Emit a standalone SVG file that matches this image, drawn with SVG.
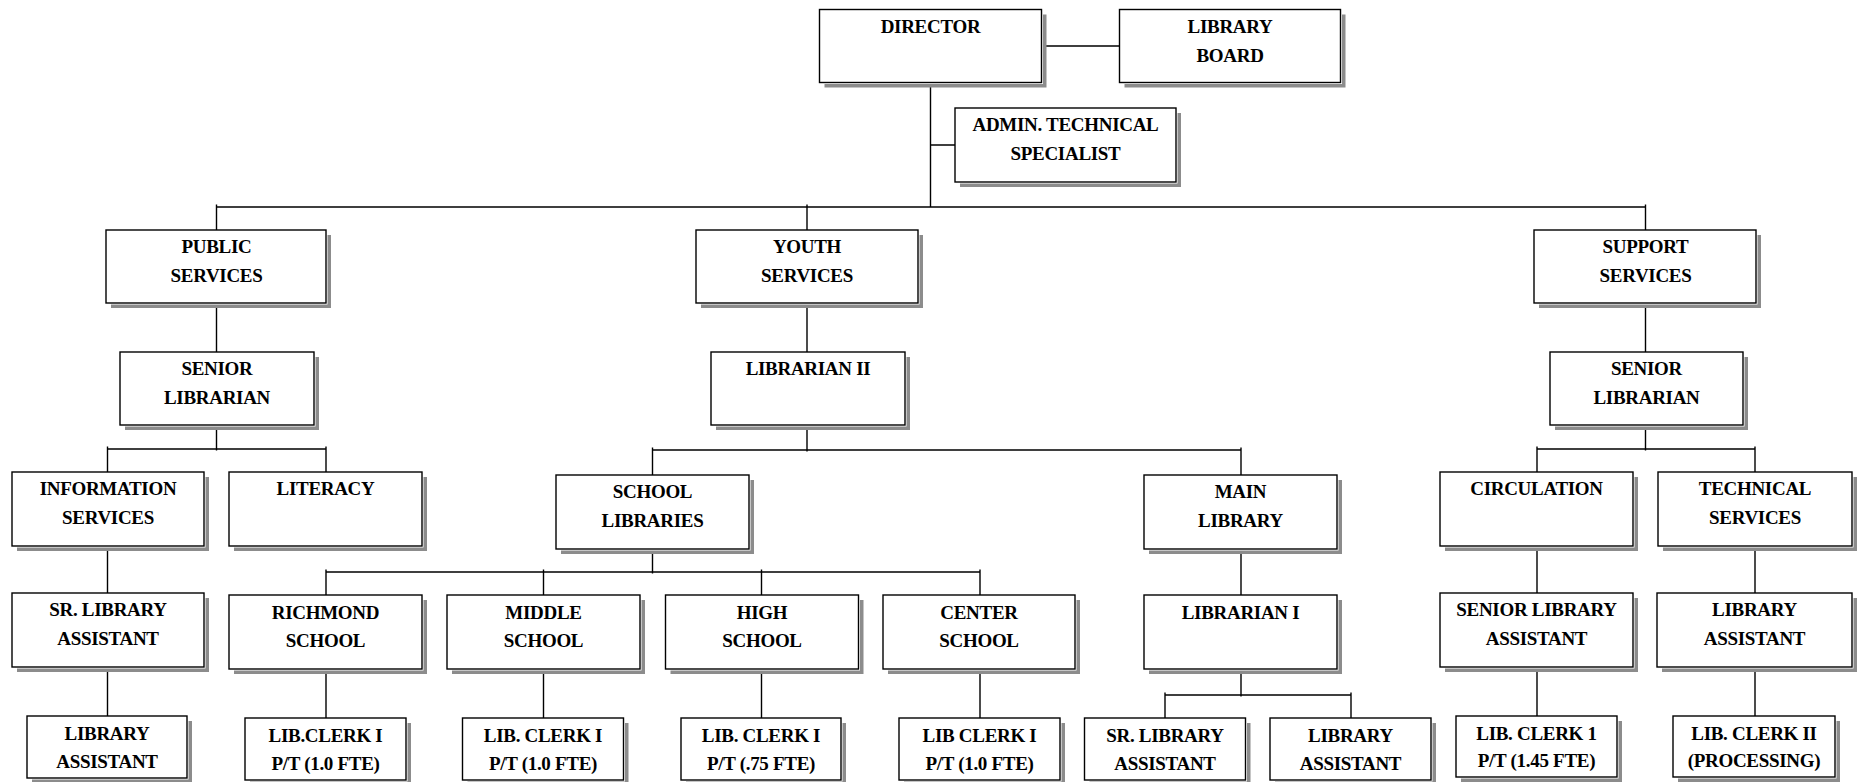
<svg xmlns="http://www.w3.org/2000/svg" width="1862" height="782" viewBox="0 0 1862 782">
<style>
.sh{fill:#8c8c8c}
.gap{fill:#ffffff}
.bx{fill:#ffffff;stroke:#000;stroke-width:1.4}
.t{font-family:"Liberation Serif","Times New Roman",serif;font-weight:bold;font-size:19px;letter-spacing:-0.3px;text-anchor:middle;fill:#000}
.c{stroke:#000;stroke-width:1.4;fill:none}
</style>
<rect x="0" y="0" width="1862" height="782" fill="#ffffff"/>
<g id="connectors">
<path class="c" d="M1041.5 46H1119.5M930.5 82.5V207M930.5 145H955M216.5 207H1645.5M216.5 204.5V230M807 204.5V230M1645.5 204.5V230"/>
<path class="c" d="M216.5 303V352M807 303V352M1645.5 303V352"/>
<path class="c" d="M216.5 425V450.5M107.5 449H326M107.5 446.5V472M326 446.5V472"/>
<path class="c" d="M807 425V451.5M652.5 450H1241M652.5 447.5V475M1241 447.5V475"/>
<path class="c" d="M1645.5 425V450.5M1537 449H1755M1537 446.5V472M1755 446.5V472"/>
<path class="c" d="M107.5 546V593M107.5 667V716"/>
<path class="c" d="M652.5 549V573.5M326 572H980M326 569.5V595M543.5 569.5V595M761.5 569.5V595M980 569.5V595"/>
<path class="c" d="M326 669V718M543.5 669V718M761.5 669V718M980 669V718"/>
<path class="c" d="M1241 549V595M1241 669V696.5M1165 695H1351M1165 692.5V718M1351 692.5V718"/>
<path class="c" d="M1537 546V593M1537 667V716M1755 546V593M1755 667V716"/>
</g>

<g id="director"><rect class="sh" x="824.5" y="14.5" width="222" height="73"/><rect class="gap" x="819.5" y="9.5" width="223.5" height="74.5"/><rect class="bx" x="819.5" y="9.5" width="222" height="73"/><text class="t" x="930.5" y="33">DIRECTOR</text></g>
<g id="library-board"><rect class="sh" x="1124.5" y="14.5" width="221" height="73"/><rect class="gap" x="1119.5" y="9.5" width="222.5" height="74.5"/><rect class="bx" x="1119.5" y="9.5" width="221" height="73"/><text class="t" x="1230" y="33">LIBRARY</text><text class="t" x="1230" y="62">BOARD</text></g>
<g id="admin-tech"><rect class="sh" x="960" y="113" width="221" height="74"/><rect class="gap" x="955" y="108" width="222.5" height="75.5"/><rect class="bx" x="955" y="108" width="221" height="74"/><text class="t" x="1065.5" y="131">ADMIN. TECHNICAL</text><text class="t" x="1065.5" y="160">SPECIALIST</text></g>

<g id="public-services"><rect class="sh" x="111" y="235" width="220" height="73"/><rect class="gap" x="106" y="230" width="221.5" height="74.5"/><rect class="bx" x="106" y="230" width="220" height="73"/><text class="t" x="216.5" y="253">PUBLIC</text><text class="t" x="216.5" y="282">SERVICES</text></g>
<g id="youth-services"><rect class="sh" x="701" y="235" width="222" height="73"/><rect class="gap" x="696" y="230" width="223.5" height="74.5"/><rect class="bx" x="696" y="230" width="222" height="73"/><text class="t" x="807" y="253">YOUTH</text><text class="t" x="807" y="282">SERVICES</text></g>
<g id="support-services"><rect class="sh" x="1539" y="235" width="222" height="73"/><rect class="gap" x="1534" y="230" width="223.5" height="74.5"/><rect class="bx" x="1534" y="230" width="222" height="73"/><text class="t" x="1645.5" y="253">SUPPORT</text><text class="t" x="1645.5" y="282">SERVICES</text></g>

<g id="senior-librarian-public"><rect class="sh" x="125" y="357" width="194" height="73"/><rect class="gap" x="120" y="352" width="195.5" height="74.5"/><rect class="bx" x="120" y="352" width="194" height="73"/><text class="t" x="217" y="375">SENIOR</text><text class="t" x="217" y="404">LIBRARIAN</text></g>
<g id="librarian-ii"><rect class="sh" x="716" y="357" width="194" height="73"/><rect class="gap" x="711" y="352" width="195.5" height="74.5"/><rect class="bx" x="711" y="352" width="194" height="73"/><text class="t" x="808" y="375">LIBRARIAN II</text></g>
<g id="senior-librarian-support"><rect class="sh" x="1555" y="357" width="193" height="73"/><rect class="gap" x="1550" y="352" width="194.5" height="74.5"/><rect class="bx" x="1550" y="352" width="193" height="73"/><text class="t" x="1646.5" y="375">SENIOR</text><text class="t" x="1646.5" y="404">LIBRARIAN</text></g>

<g id="information-services"><rect class="sh" x="17" y="477" width="192" height="74"/><rect class="gap" x="12" y="472" width="193.5" height="75.5"/><rect class="bx" x="12" y="472" width="192" height="74"/><text class="t" x="108" y="495">INFORMATION</text><text class="t" x="108" y="524">SERVICES</text></g>
<g id="literacy"><rect class="sh" x="234" y="477" width="193" height="74"/><rect class="gap" x="229" y="472" width="194.5" height="75.5"/><rect class="bx" x="229" y="472" width="193" height="74"/><text class="t" x="325.5" y="495">LITERACY</text></g>
<g id="school-libraries"><rect class="sh" x="561" y="480" width="193" height="74"/><rect class="gap" x="556" y="475" width="194.5" height="75.5"/><rect class="bx" x="556" y="475" width="193" height="74"/><text class="t" x="652.5" y="498">SCHOOL</text><text class="t" x="652.5" y="527">LIBRARIES</text></g>
<g id="main-library"><rect class="sh" x="1149" y="480" width="193" height="74"/><rect class="gap" x="1144" y="475" width="194.5" height="75.5"/><rect class="bx" x="1144" y="475" width="193" height="74"/><text class="t" x="1240.5" y="498">MAIN</text><text class="t" x="1240.5" y="527">LIBRARY</text></g>
<g id="circulation"><rect class="sh" x="1445" y="477" width="193" height="74"/><rect class="gap" x="1440" y="472" width="194.5" height="75.5"/><rect class="bx" x="1440" y="472" width="193" height="74"/><text class="t" x="1536.5" y="495">CIRCULATION</text></g>
<g id="technical-services"><rect class="sh" x="1663" y="477" width="194" height="74"/><rect class="gap" x="1658" y="472" width="195.5" height="75.5"/><rect class="bx" x="1658" y="472" width="194" height="74"/><text class="t" x="1755" y="495">TECHNICAL</text><text class="t" x="1755" y="524">SERVICES</text></g>

<g id="sr-library-assistant-info"><rect class="sh" x="17" y="598" width="192" height="74"/><rect class="gap" x="12" y="593" width="193.5" height="75.5"/><rect class="bx" x="12" y="593" width="192" height="74"/><text class="t" x="108" y="616">SR. LIBRARY</text><text class="t" x="108" y="645">ASSISTANT</text></g>
<g id="richmond-school"><rect class="sh" x="234" y="600" width="193" height="74"/><rect class="gap" x="229" y="595" width="194.5" height="75.5"/><rect class="bx" x="229" y="595" width="193" height="74"/><text class="t" x="325.5" y="619">RICHMOND</text><text class="t" x="325.5" y="647">SCHOOL</text></g>
<g id="middle-school"><rect class="sh" x="452" y="600" width="193" height="74"/><rect class="gap" x="447" y="595" width="194.5" height="75.5"/><rect class="bx" x="447" y="595" width="193" height="74"/><text class="t" x="543.5" y="619">MIDDLE</text><text class="t" x="543.5" y="647">SCHOOL</text></g>
<g id="high-school"><rect class="sh" x="670.5" y="600" width="193" height="74"/><rect class="gap" x="665.5" y="595" width="194.5" height="75.5"/><rect class="bx" x="665.5" y="595" width="193" height="74"/><text class="t" x="762" y="619">HIGH</text><text class="t" x="762" y="647">SCHOOL</text></g>
<g id="center-school"><rect class="sh" x="888" y="600" width="192" height="74"/><rect class="gap" x="883" y="595" width="193.5" height="75.5"/><rect class="bx" x="883" y="595" width="192" height="74"/><text class="t" x="979" y="619">CENTER</text><text class="t" x="979" y="647">SCHOOL</text></g>
<g id="librarian-i"><rect class="sh" x="1149" y="600" width="193" height="74"/><rect class="gap" x="1144" y="595" width="194.5" height="75.5"/><rect class="bx" x="1144" y="595" width="193" height="74"/><text class="t" x="1240.5" y="619">LIBRARIAN I</text></g>
<g id="senior-library-assistant"><rect class="sh" x="1445" y="598" width="193" height="74"/><rect class="gap" x="1440" y="593" width="194.5" height="75.5"/><rect class="bx" x="1440" y="593" width="193" height="74"/><text class="t" x="1536.5" y="616">SENIOR LIBRARY</text><text class="t" x="1536.5" y="645">ASSISTANT</text></g>
<g id="library-assistant-tech"><rect class="sh" x="1662" y="598" width="195" height="74"/><rect class="gap" x="1657" y="593" width="196.5" height="75.5"/><rect class="bx" x="1657" y="593" width="195" height="74"/><text class="t" x="1754.5" y="616">LIBRARY</text><text class="t" x="1754.5" y="645">ASSISTANT</text></g>

<g id="library-assistant-info"><rect class="sh" x="32" y="721" width="160" height="62"/><rect class="gap" x="27" y="716" width="161.5" height="63.5"/><rect class="bx" x="27" y="716" width="160" height="62"/><text class="t" x="107" y="740">LIBRARY</text><text class="t" x="107" y="768">ASSISTANT</text></g>
<g id="clerk-richmond"><rect class="sh" x="250" y="723" width="161" height="62"/><rect class="gap" x="245" y="718" width="162.5" height="63.5"/><rect class="bx" x="245" y="718" width="161" height="62"/><text class="t" x="325.5" y="742">LIB.CLERK I</text><text class="t" x="325.5" y="770">P/T (1.0 FTE)</text></g>
<g id="clerk-middle"><rect class="sh" x="467.5" y="723" width="161" height="62"/><rect class="gap" x="462.5" y="718" width="162.5" height="63.5"/><rect class="bx" x="462.5" y="718" width="161" height="62"/><text class="t" x="543" y="742">LIB. CLERK I</text><text class="t" x="543" y="770">P/T (1.0 FTE)</text></g>
<g id="clerk-high"><rect class="sh" x="686" y="723" width="160" height="62"/><rect class="gap" x="681" y="718" width="161.5" height="63.5"/><rect class="bx" x="681" y="718" width="160" height="62"/><text class="t" x="761" y="742">LIB. CLERK I</text><text class="t" x="761" y="770">P/T (.75 FTE)</text></g>
<g id="clerk-center"><rect class="sh" x="904" y="723" width="161" height="62"/><rect class="gap" x="899" y="718" width="162.5" height="63.5"/><rect class="bx" x="899" y="718" width="161" height="62"/><text class="t" x="979.5" y="742">LIB CLERK I</text><text class="t" x="979.5" y="770">P/T (1.0 FTE)</text></g>
<g id="sr-library-assistant-main"><rect class="sh" x="1089.5" y="723" width="161" height="62"/><rect class="gap" x="1084.5" y="718" width="162.5" height="63.5"/><rect class="bx" x="1084.5" y="718" width="161" height="62"/><text class="t" x="1165" y="742">SR. LIBRARY</text><text class="t" x="1165" y="770">ASSISTANT</text></g>
<g id="library-assistant-main"><rect class="sh" x="1275" y="723" width="161" height="62"/><rect class="gap" x="1270" y="718" width="162.5" height="63.5"/><rect class="bx" x="1270" y="718" width="161" height="62"/><text class="t" x="1350.5" y="742">LIBRARY</text><text class="t" x="1350.5" y="770">ASSISTANT</text></g>
<g id="clerk-circulation"><rect class="sh" x="1461" y="721" width="161" height="61"/><rect class="gap" x="1456" y="716" width="162.5" height="62.5"/><rect class="bx" x="1456" y="716" width="161" height="61"/><text class="t" x="1536.5" y="740">LIB. CLERK 1</text><text class="t" x="1536.5" y="767">P/T (1.45 FTE)</text></g>
<g id="clerk-processing"><rect class="sh" x="1678" y="721" width="162" height="61"/><rect class="gap" x="1673" y="716" width="163.5" height="62.5"/><rect class="bx" x="1673" y="716" width="162" height="61"/><text class="t" x="1754" y="740">LIB. CLERK II</text><text class="t" x="1754" y="767">(PROCESSING)</text></g>
</svg>
